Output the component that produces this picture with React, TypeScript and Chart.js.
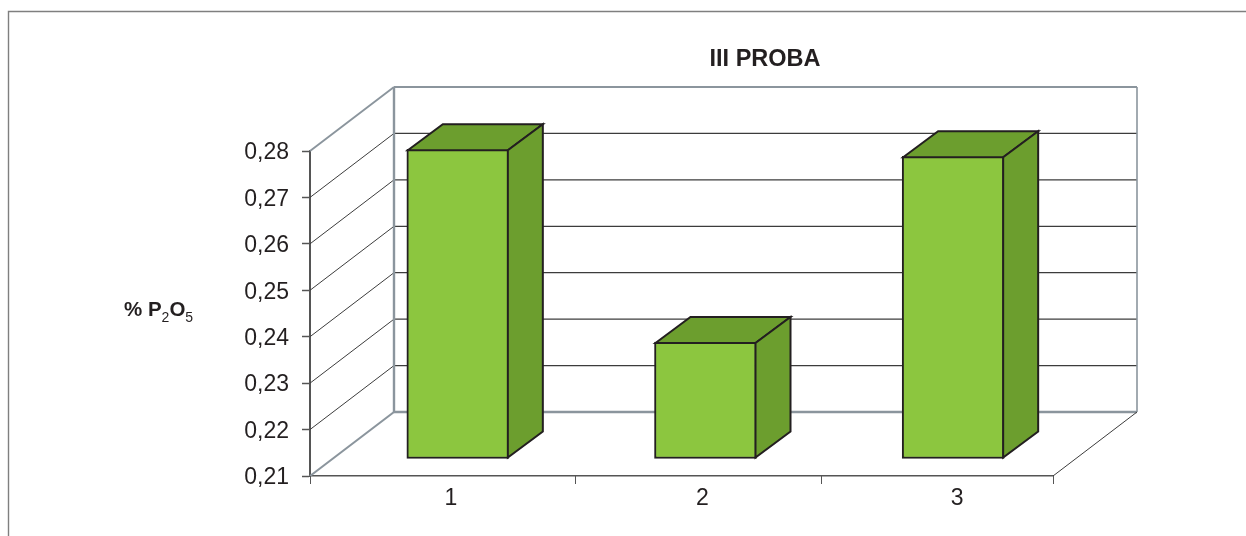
import { useEffect, useRef } from "react";
import { Chart, registerables } from "chart.js";

Chart.register(...registerables);

const categories = ["1", "2", "3"];
const proba = [0.2767, 0.2352, 0.2752];
const yMin = 0.21;
const yMax = 0.28;
const yStep = 0.01;

const chartTitle = "III PROBA";
const fontFamily = '"Liberation Sans", Arial, sans-serif';

// Oblique projection of the chart box
const wallDx = 84;
const wallDy = -64;
const barDx = 24;
const barDy = -17;
const barDepthDx = 35;
const barDepthDy = -26;

const frontColor = "#8cc63f";
const shadeColor = "#6c9e2e";
const edgeColor = "#231f20";
const wallColor = "#8b959d";
const gridColor = "#3c3c3c";
const axisColor = "#555555";

// The printed category axis is not evenly divided
const xTickFractions = [0, 0.357, 0.688, 1];
const xLabelNudge = [17, 21, 28];

function line(ctx: CanvasRenderingContext2D, x1: number, y1: number, x2: number, y2: number, color: string, width: number) {
  ctx.beginPath();
  ctx.strokeStyle = color;
  ctx.lineWidth = width;
  ctx.moveTo(x1, y1);
  ctx.lineTo(x2, y2);
  ctx.stroke();
}

function face(ctx: CanvasRenderingContext2D, pts: number[][], fill: string) {
  ctx.beginPath();
  pts.forEach(([x, y], i) => (i ? ctx.lineTo(x, y) : ctx.moveTo(x, y)));
  ctx.closePath();
  ctx.fillStyle = fill;
  ctx.fill();
  ctx.strokeStyle = edgeColor;
  ctx.lineWidth = 2;
  ctx.lineJoin = "miter";
  ctx.stroke();
}

const box3d = {
  id: "box3d",
  beforeDatasetsDraw(chart: any) {
    const { ctx, chartArea: a, scales } = chart;
    const { left, right, top, bottom } = a;
    ctx.save();

    // Gridlines run along the side wall and across the back wall
    scales.y.ticks.forEach((t: any) => {
      const y = scales.y.getPixelForValue(t.value);
      if (y <= top + 1 || y >= bottom - 1) return;
      line(ctx, left, y, left + wallDx, y + wallDy, gridColor, 1);
      line(ctx, left + wallDx, y + wallDy, right + wallDx, y + wallDy, gridColor, 1.2);
    });

    // Wall outlines
    const wl = left + wallDx;
    const wr = right + wallDx;
    const wt = top + wallDy;
    const wb = bottom + wallDy;
    line(ctx, left, top, wl, wt, wallColor, 2);
    line(ctx, left, bottom, wl, wb, wallColor, 2.2);
    line(ctx, wl, wt, wr, wt, wallColor, 2);
    line(ctx, wl, wt, wl, wb, wallColor, 2.4);
    line(ctx, wr, wt, wr, wb, wallColor, 1.6);
    line(ctx, wl, wb, wr, wb, wallColor, 2.4);
    line(ctx, right, bottom, wr, wb, gridColor, 1);

    ctx.restore();
  },
  beforeDatasetDraw(chart: any) {
    chart.ctx.save();
    chart.ctx.translate(barDx, barDy);
  },
  afterDatasetDraw(chart: any, args: any) {
    const { ctx } = chart;
    args.meta.data.forEach((bar: any) => {
      const { x, y, base, width } = bar.getProps(["x", "y", "base", "width"], true);
      const l = x - width / 2 + 1;
      const r = x + width / 2 - 1;
      const t = y + 1;
      const b = base - 1;
      face(ctx, [[l, t], [l + barDepthDx, t + barDepthDy], [r + barDepthDx, t + barDepthDy], [r, t]], shadeColor);
      face(ctx, [[r, t], [r + barDepthDx, t + barDepthDy], [r + barDepthDx, b + barDepthDy], [r, b]], shadeColor);
    });
    ctx.restore();
  },
  afterDraw(chart: any) {
    const { ctx, chartArea: a, scales, width } = chart;
    ctx.save();

    // Outer frame
    ctx.beginPath();
    ctx.strokeStyle = "#7f7f7f";
    ctx.lineWidth = 1.4;
    ctx.moveTo(8.5, 536);
    ctx.lineTo(8.5, 11.5);
    ctx.lineTo(width, 11.5);
    ctx.stroke();

    // Category ticks and labels
    xTickFractions.forEach((f) => {
      const x = Math.round(a.left + a.width * f) + 0.5;
      line(ctx, x, a.bottom, x, a.bottom + 8, axisColor, 1);
    });
    ctx.fillStyle = edgeColor;
    ctx.textBaseline = "middle";
    ctx.textAlign = "center";
    ctx.font = `23px ${fontFamily}`;
    categories.forEach((c, i) => {
      ctx.fillText(c, scales.x.getPixelForTick(i) + xLabelNudge[i], 499);
    });

    // Title
    ctx.font = `bold 23.5px ${fontFamily}`;
    ctx.fillText(chartTitle, 765, 59.5);

    // Value axis caption with subscripts
    const parts: [string, number, number, boolean][] = [
      ["% P", 20.5, 0, true],
      ["2", 14, 8, false],
      ["O", 20.5, 0, true],
      ["5", 14, 8, false],
    ];
    let cx = 124;
    ctx.textAlign = "left";
    parts.forEach(([s, size, shift, bold]) => {
      ctx.font = `${bold ? "bold " : ""}${size}px ${fontFamily}`;
      ctx.fillText(s, cx, 310 + shift);
      cx += ctx.measureText(s).width;
    });

    ctx.restore();
  },
};

export default function App() {
  const ref = useRef<HTMLCanvasElement>(null);

  useEffect(() => {
    const chart = new Chart(ref.current as HTMLCanvasElement, {
      type: "bar",
      data: {
        labels: categories,
        datasets: [
          {
            data: proba,
            base: yMin,
            backgroundColor: frontColor,
            borderColor: edgeColor,
            borderWidth: 2,
            borderSkipped: false,
            barThickness: 102,
            clip: false,
          } as any,
        ],
      },
      options: {
        responsive: false,
        animation: false,
        layout: { padding: { top: 151, right: 193, left: 0, bottom: 0 } },
        plugins: { legend: { display: false }, title: { display: false }, tooltip: { enabled: false } },
        scales: {
          x: {
            afterFit: (s: any) => {
              s.height = 60;
            },
            grid: { display: false },
            border: { display: true, color: axisColor, width: 1.5 },
            ticks: { display: false },
          },
          y: {
            min: yMin,
            max: yMax,
            afterFit: (s: any) => {
              s.width = 310;
            },
            grid: { drawOnChartArea: false, drawTicks: true, tickLength: 8, tickColor: axisColor, tickWidth: 1.5 },
            border: { display: true, color: axisColor, width: 2 },
            ticks: {
              stepSize: yStep,
              padding: 13,
              labelOffset: 2,
              color: edgeColor,
              font: { family: fontFamily, size: 23 },
              callback: (v: any) => Number(v).toFixed(2).replace(".", ","),
            },
          },
        },
      } as any,
      plugins: [box3d],
    });
    return () => chart.destroy();
  }, []);

  return (
    <div style={{ position: "absolute", left: 0, top: 0, width: 1246, height: 536, overflow: "hidden", background: "#fff" }}>
      <canvas ref={ref} width={1246} height={536} style={{ display: "block" }} />
    </div>
  );
}
